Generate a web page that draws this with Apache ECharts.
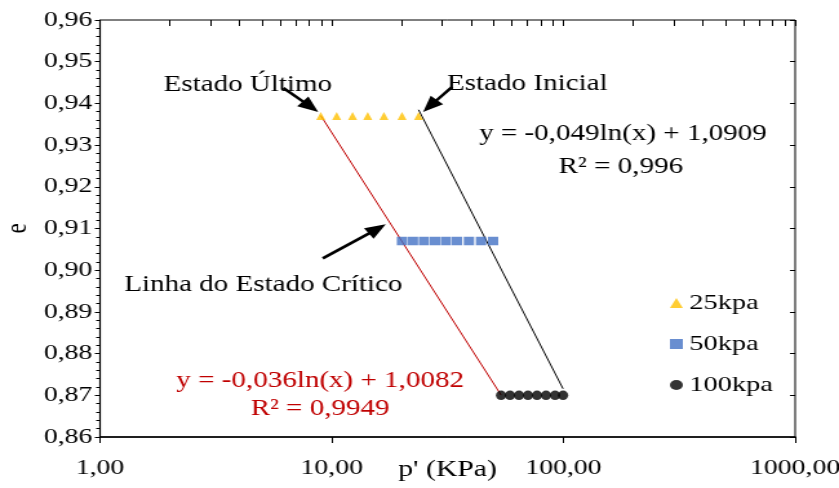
<!DOCTYPE html>
<html>
<head>
<meta charset="utf-8">
<script src="https://cdn.jsdelivr.net/npm/echarts@6/dist/echarts.min.js"></script>
<style>
  html, body { margin: 0; padding: 0; background: #fff; overflow: hidden; }
  #wrap { width: 839px; height: 488px; overflow: hidden; position: relative; }
  /* the figure is drawn narrower and widened horizontally */
  #chart { width: 650px; height: 488px; transform: scaleX(1.2908); transform-origin: 0 0; }
</style>
</head>
<body>
<div id="wrap"><div id="chart"></div></div>
<script>
// Mean effective stress p' (kPa) and void ratio e for each confining pressure
const seriesNames = ['25kpa', '50kpa', '100kpa'];
const pressure25 = [8.97, 10.5, 12.3, 14.3, 16.8, 20.1, 23.7];
const voidRatio25 = [0.937, 0.937, 0.937, 0.937, 0.937, 0.937, 0.937];
const pressure50 = [20.1, 22.4, 25.0, 27.9, 31.1, 34.7, 39.1, 44.1, 49.7];
const voidRatio50 = [0.907, 0.907, 0.907, 0.907, 0.907, 0.907, 0.907, 0.907, 0.907];
const pressure100 = [53.8, 58.8, 64.3, 70.3, 76.9, 84.1, 92.0, 99.6];
const voidRatio100 = [0.870, 0.870, 0.870, 0.870, 0.870, 0.870, 0.870, 0.870];

// Axis ranges
const xMin = 1, xMax = 1000;
const yMin = 0.86, yMax = 0.96, yStep = 0.01;

// Texts
const labelUltimo = 'Estado Último';
const labelInicial = 'Estado Inicial';
const labelCritico = 'Linha do Estado Crítico';
const eqInicial = 'y = -0,049ln(x) + 1,0909';
const r2Inicial = 'R² = 0,996';
const eqCritico = 'y = -0,036ln(x) + 1,0082';
const r2Critico = 'R² = 0,9949';

const serif = 'Liberation Serif';
const redColor = '#C00000';

// Least-squares fit of e = a ln(p) + b
function logFit(ps, es) {
  const xs = ps.map(Math.log);
  const n = xs.length;
  const mx = xs.reduce((s, v) => s + v, 0) / n;
  const my = es.reduce((s, v) => s + v, 0) / n;
  let sxy = 0, sxx = 0;
  for (let i = 0; i < n; i++) {
    sxy += (xs[i] - mx) * (es[i] - my);
    sxx += (xs[i] - mx) * (xs[i] - mx);
  }
  const a = sxy / sxx;
  return { a: a, b: my - a * mx };
}

// Critical state: end of each test (first point); initial state: last point
const critP = [pressure25[0], pressure50[0], pressure100[0]];
const critE = [voidRatio25[0], voidRatio50[0], voidRatio100[0]];
const initP = [pressure25[pressure25.length - 1], pressure50[pressure50.length - 1], pressure100[pressure100.length - 1]];
const initE = [voidRatio25[voidRatio25.length - 1], voidRatio50[voidRatio50.length - 1], voidRatio100[voidRatio100.length - 1]];
const critFit = logFit(critP, critE);
const initFit = logFit(initP, initE);
function fitLine(fit, ps) {
  const lo = Math.min.apply(null, ps), hi = Math.max.apply(null, ps);
  return [[lo, fit.a * Math.log(lo) + fit.b], [hi, fit.a * Math.log(hi) + fit.b]];
}

function zip(ps, es) { return ps.map((p, i) => [p, es[i]]); }
const fmtY = v => v.toFixed(2).replace('.', ',');
const fmtX = v => v.toFixed(2).replace('.', ',');

const chart = echarts.init(document.getElementById('chart'), null, { renderer: 'canvas' });

const baseX = { type: 'log', logBase: 10, min: xMin, max: xMax, gridIndex: 0 };
const baseY = { type: 'value', min: yMin, max: yMax, interval: yStep, gridIndex: 0 };

chart.setOption({
  animation: false,
  backgroundColor: '#fff',
  grid: {
    left: 77.5, right: 34, top: 20, bottom: 51,
    containLabel: false, outerBoundsMode: 'none',
    show: true, borderColor: '#000', borderWidth: 1, backgroundColor: 'transparent'
  },
  legend: {
    orient: 'vertical', left: 514, top: 287, itemGap: 19, itemWidth: 10, itemHeight: 10,
    data: seriesNames,
    textStyle: { fontFamily: serif, fontSize: 22, color: '#000' }
  },
  xAxis: [
    Object.assign({}, baseX, {
      name: "p' (KPa)", nameLocation: 'middle', nameGap: 21, nameMoveOverlap: false,
      nameTextStyle: { fontFamily: serif, fontSize: 23, color: '#000' },
      axisLine: { show: true, lineStyle: { color: '#000', width: 1.5 } },
      axisTick: { show: true, inside: false, length: 6, lineStyle: { color: '#000' } },
      minorTick: { show: false },
      splitLine: { show: false },
      axisLabel: { formatter: fmtX, fontFamily: serif, fontSize: 21.5, color: '#000', margin: 20 }
    }),
    Object.assign({}, baseX, {
      axisLine: { show: false },
      axisTick: { show: true, inside: true, length: 6, lineStyle: { color: '#000' } },
      minorTick: { show: true, splitNumber: 9, length: 6, lineStyle: { color: '#000' } },
      splitLine: { show: false },
      axisLabel: { show: false }
    })
  ],
  yAxis: [
    Object.assign({}, baseY, {
      name: 'e', nameLocation: 'middle', nameGap: 52, nameRotate: 90, nameMoveOverlap: false,
      nameTextStyle: { fontFamily: serif, fontSize: 23, color: '#000' },
      axisLine: { show: true, lineStyle: { color: '#000', width: 1.2 } },
      axisTick: { show: true, inside: false, length: 4, lineStyle: { color: '#000' } },
      minorTick: { show: true, splitNumber: 5, length: 3, lineStyle: { color: '#000' } },
      splitLine: { show: false },
      axisLabel: { formatter: fmtY, fontFamily: serif, fontSize: 21.5, color: '#000', margin: 6 }
    }),
    Object.assign({}, baseY, {
      axisLine: { show: false },
      axisTick: { show: true, inside: true, length: 4, lineStyle: { color: '#000' } },
      minorTick: { show: false },
      splitLine: { show: false },
      axisLabel: { show: false }
    })
  ],
  series: [
    {
      name: 'Linha do Estado Crítico', type: 'line', data: fitLine(critFit, critP),
      showSymbol: false, symbol: 'none', lineStyle: { color: redColor, width: 1 }, z: 1, silent: true
    },
    {
      name: 'Estado Inicial', type: 'line', data: fitLine(initFit, initP),
      showSymbol: false, symbol: 'none', lineStyle: { color: '#000', width: 1 }, z: 1, silent: true
    },
    {
      name: seriesNames[0], type: 'scatter', data: zip(pressure25, voidRatio25),
      symbol: 'triangle', symbolSize: [7, 8], itemStyle: { color: '#FFC000' }, z: 3
    },
    {
      name: seriesNames[1], type: 'scatter', data: zip(pressure50, voidRatio50),
      symbol: 'rect', symbolSize: [8, 8.5], itemStyle: { color: '#4472C4' }, z: 3
    },
    {
      name: seriesNames[2], type: 'scatter', data: zip(pressure100, voidRatio100),
      symbol: 'circle', symbolSize: [8, 9.5], itemStyle: { color: '#000' }, z: 3
    }
  ]
});

// Annotations: labels and arrows pointing at the states
function arrow(tail, tip, lw, headLen, headHalf) {
  const dx = tip[0] - tail[0], dy = tip[1] - tail[1];
  const len = Math.sqrt(dx * dx + dy * dy);
  const ux = dx / len, uy = dy / len;
  const bx = tip[0] - ux * headLen, by = tip[1] - uy * headLen;
  return {
    type: 'group',
    children: [
      { type: 'line', shape: { x1: tail[0], y1: tail[1], x2: bx + ux * 2, y2: by + uy * 2 }, style: { stroke: '#000', lineWidth: lw } },
      { type: 'polygon', shape: { points: [tip, [bx - uy * headHalf, by + ux * headHalf], [bx + uy * headHalf, by - ux * headHalf]] }, style: { fill: '#000' } }
    ]
  };
}
function label(text, x, y, color) {
  return {
    type: 'text', x: x, y: y,
    style: { text: text, fill: color || '#000', font: '22.5px "' + serif + '"', align: 'center', verticalAlign: 'middle' }
  };
}

const toPx = pt => chart.convertToPixel({ xAxisIndex: 0, yAxisIndex: 0 }, pt);
const firstTri = toPx([pressure25[0], voidRatio25[0]]);
const lastTri = toPx([pressure25[pressure25.length - 1], voidRatio25[voidRatio25.length - 1]]);
const eOnLine = 0.911;
const critPt = toPx([Math.exp((eOnLine - critFit.b) / critFit.a), eOnLine]);

const tipU = [firstTri[0] - 2, firstTri[1] - 4];
const tipI = [lastTri[0] + 3.5, lastTri[1] - 4];
const tipC = [critPt[0] - 4, critPt[1]];

chart.setOption({
  graphic: [
    arrow([tipU[0] - 27, tipU[1] - 24], tipU, 2.6, 16, 6.5),
    arrow([tipI[0] + 22.5, tipI[1] - 25], tipI, 2.6, 16, 6.5),
    arrow([tipC[0] - 48.8, tipC[1] + 34], tipC, 2.6, 16, 6.5),
    label(labelUltimo, 192, 85),
    label(labelInicial, 408.5, 84),
    label(eqInicial, 482.6, 134),
    label(r2Inicial, 481, 167),
    label(labelCritico, 204, 285),
    label(eqCritico, 248, 381, redColor),
    label(r2Critico, 248, 409, redColor)
  ]
});
</script>
</body>
</html>
